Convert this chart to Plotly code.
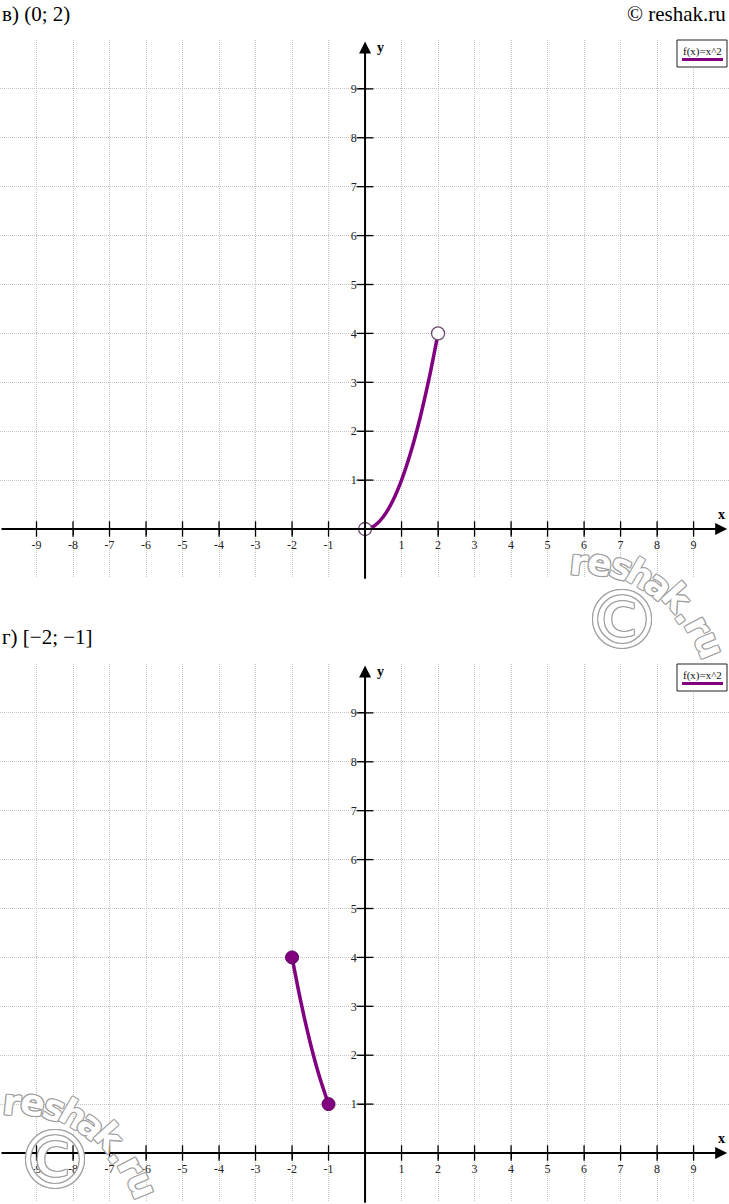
import plotly.graph_objects as go

W, H = 729, 1204

# ---------------- data ----------------
x_ticks = [-9, -8, -7, -6, -5, -4, -3, -2, -1, 1, 2, 3, 4, 5, 6, 7, 8, 9]
x_tick_text = ["-9", "-8", "-7", "-6", "-5", "-4", "-3", "-2", "-1",
               "1", "2", "3", "4", "5", "6", "7", "8", "9"]
y_ticks = [1, 2, 3, 4, 5, 6, 7, 8, 9]
y_tick_text = ["1", "2", "3", "4", "5", "6", "7", "8", "9"]

# panel "в": f(x)=x^2 on (0; 2) (open ends)
curve_v_x = [0.0, 0.25, 0.5, 0.75, 1.0, 1.25, 1.5, 1.75, 2.0]
curve_v_y = [0.0, 0.0625, 0.25, 0.5625, 1.0, 1.5625, 2.25, 3.0625, 4.0]
ends_v_x = [0, 2]
ends_v_y = [0, 4]

# panel "г": f(x)=x^2 on [-2; -1] (closed ends)
curve_g_x = [-2.0, -1.75, -1.5, -1.25, -1.0]
curve_g_y = [4.0, 3.0625, 2.25, 1.5625, 1.0]
ends_g_x = [-2, -1]
ends_g_y = [4, 1]

zero_x = [0] * len(y_ticks)
zero_y = [0] * len(x_ticks)

X_RANGE = [-10, 9.97]
Y_RANGE = [-1, 10]

PURPLE = "#800080"
GRID = "#c4c4c4"
SERIF = "Liberation Serif"


def py(px):
    return 1 - px / H


def pxx(px):
    return px / W


# panel geometry (pixels)
panels = [
    dict(top=40, bottom=577.9, axis=529, suffix="", xa="x", ya="y"),
    dict(top=664, bottom=1201.9, axis=1153, suffix="2", xa="x2", ya="y2"),
]

fig = go.Figure()

annotations = []
shapes = []
layout = {}

for p in panels:
    xa, ya, s = p["xa"], p["ya"], p["suffix"]
    # crossing tick marks
    fig.add_trace(go.Scatter(x=x_ticks, y=zero_y, mode="markers",
                             marker=dict(symbol="line-ns", size=11,
                                         line=dict(color="black", width=1.3)),
                             xaxis=xa, yaxis=ya, showlegend=False, hoverinfo="skip"))
    fig.add_trace(go.Scatter(x=zero_x, y=y_ticks, mode="markers",
                             marker=dict(symbol="line-ew", size=12,
                                         line=dict(color="black", width=1.3)),
                             xaxis=xa, yaxis=ya, showlegend=False, hoverinfo="skip"))

    layout["xaxis" + s] = dict(
        domain=[0, 1], range=X_RANGE, anchor="free", position=py(p["axis"]),
        tickvals=x_ticks, ticktext=x_tick_text, ticks="outside", ticklen=5,
        tickwidth=1.3, tickcolor="black",
        showgrid=True, gridcolor=GRID, griddash="1px,1px", gridwidth=1,
        zeroline=False, showline=False,
        tickfont=dict(family=SERIF, size=12, color="#222"),
        fixedrange=True,
    )
    layout["yaxis" + s] = dict(
        domain=[py(p["bottom"]), py(p["top"])], range=Y_RANGE,
        anchor="free", position=pxx(365.05),
        tickvals=y_ticks, ticktext=y_tick_text, ticks="outside", ticklen=6,
        tickwidth=1.3, tickcolor="black",
        showgrid=True, gridcolor=GRID, griddash="1px,1px", gridwidth=1,
        zeroline=False, showline=False,
        tickfont=dict(family=SERIF, size=12, color="#222"),
        fixedrange=True,
    )
    # axis lines with arrows
    annotations.append(dict(x=9.92, y=0, ax=-10, ay=0, xref=xa, yref=ya,
                            axref=xa, ayref=ya, text="", showarrow=True,
                            arrowhead=2, arrowsize=1.2, arrowwidth=2,
                            arrowcolor="black", standoff=0, startstandoff=0))
    annotations.append(dict(x=0, y=9.97, ax=0, ay=-1.05, xref=xa, yref=ya,
                            axref=xa, ayref=ya, text="", showarrow=True,
                            arrowhead=2, arrowsize=1.2, arrowwidth=2,
                            arrowcolor="black", standoff=0, startstandoff=0))
    # axis names
    annotations.append(dict(x=9.77, y=0.29, xref=xa, yref=ya, text="<b>x</b>",
                            showarrow=False,
                            font=dict(family=SERIF, size=14, color="black")))
    annotations.append(dict(x=0.42, y=9.85, xref=xa, yref=ya, text="<b>y</b>",
                            showarrow=False,
                            font=dict(family=SERIF, size=14, color="black")))
    # legend box
    t = p["top"]
    shapes.append(dict(type="rect", xref="paper", yref="paper",
                       x0=pxx(677), x1=pxx(727), y0=py(t + 27), y1=py(t),
                       fillcolor="white", line=dict(color="#222", width=1)))
    shapes.append(dict(type="line", xref="paper", yref="paper",
                       x0=pxx(682), x1=pxx(723), y0=py(t + 19.5), y1=py(t + 19.5),
                       line=dict(color=PURPLE, width=3)))
    annotations.append(dict(x=pxx(702), y=py(t + 11.5), xref="paper", yref="paper",
                            xanchor="center", yanchor="middle", text="f(x)=x^2",
                            showarrow=False,
                            font=dict(family=SERIF, size=11, color="#111")))

# curves
fig.add_trace(go.Scatter(x=curve_v_x, y=curve_v_y, mode="lines",
                         line=dict(color=PURPLE, width=3.5, shape="spline"),
                         xaxis="x", yaxis="y", showlegend=False, hoverinfo="skip"))
fig.add_trace(go.Scatter(x=ends_v_x, y=ends_v_y, mode="markers",
                         marker=dict(size=13, color="white",
                                     line=dict(color="#6e4a6e", width=1.3)),
                         xaxis="x", yaxis="y", showlegend=False))
fig.add_trace(go.Scatter(x=curve_g_x, y=curve_g_y, mode="lines",
                         line=dict(color=PURPLE, width=3.5, shape="spline"),
                         xaxis="x2", yaxis="y2", showlegend=False, hoverinfo="skip"))
fig.add_trace(go.Scatter(x=ends_g_x, y=ends_g_y, mode="markers",
                         marker=dict(size=13, color=PURPLE,
                                     line=dict(color="#5a005a", width=1)),
                         xaxis="x2", yaxis="y2", showlegend=False))

# titles
annotations.append(dict(x=0, y=py(0), xref="paper", yref="paper", xanchor="left",
                        yanchor="top", text="в) (0; 2)", showarrow=False,
                        font=dict(family=SERIF, size=21, color="black")))
annotations.append(dict(x=pxx(728), y=py(0), xref="paper", yref="paper",
                        xanchor="right", yanchor="top", text="© reshak.ru",
                        showarrow=False,
                        font=dict(family=SERIF, size=21, color="black")))
annotations.append(dict(x=0, y=py(623), xref="paper", yref="paper", xanchor="left",
                        yanchor="top", text="г) [−2; −1]", showarrow=False,
                        font=dict(family=SERIF, size=21, color="black")))

# watermarks (outlined text)
OUT = "#a0a0a0"
shadow = (f"1px 0 0 {OUT}, -1px 0 0 {OUT}, 0 1px 0 {OUT}, 0 -1px 0 {OUT}, "
          f"1px 1px 0 {OUT}, -1px -1px 0 {OUT}, 1px -1px 0 {OUT}, -1px 1px 0 {OUT}")
wm_letters = [("r", 579, 562, 6), ("e", 600, 562, 12), ("s", 621, 567, 20),
              ("h", 641, 574, 30), ("a", 659, 585, 40), ("k", 677, 597, 48),
              (".", 688, 614, 55), ("r", 699, 626, 62), ("u", 710, 645, 68)]
for dx, dy in [(0, 0), (-567, 540)]:
    for ch, lx, ly, ang in wm_letters:
        annotations.append(dict(x=pxx(lx + dx), y=py(ly + dy), xref="paper",
                                yref="paper", text=ch, showarrow=False,
                                textangle=ang, xanchor="center", yanchor="middle",
                                font=dict(family="DejaVu Sans", size=36,
                                          weight="bold",
                                          color="white", shadow=shadow)))
    annotations.append(dict(x=pxx(622 + dx), y=py(620 + dy), xref="paper",
                            yref="paper", text="©", showarrow=False,
                            xanchor="center", yanchor="middle",
                            font=dict(family="DejaVu Sans", size=80,
                                      color="white", shadow=shadow)))

layout.update(dict(
    width=W, height=H, margin=dict(l=0, r=0, t=0, b=0),
    paper_bgcolor="white", plot_bgcolor="white",
    showlegend=False, annotations=annotations, shapes=shapes,
))
fig.update_layout(**layout)

fig.write_html("out.html", config={"displayModeBar": False})
